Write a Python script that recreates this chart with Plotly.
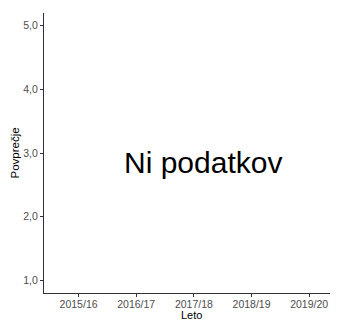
import plotly.graph_objects as go

years = ["2015/16", "2016/17", "2017/18", "2018/19", "2019/20"]
values = [None, None, None, None, None]
y_ticks = [1.0, 2.0, 3.0, 4.0, 5.0]
no_data_text = "Ni podatkov"
x_title = "Leto"
y_title = "Povprečje"

FONT = "Liberation Sans, Arial, sans-serif"

fig = go.Figure()
fig.add_trace(go.Scatter(x=years, y=values, mode="markers", showlegend=False,
                         hoverinfo="skip"))

fig.add_annotation(x=0.54, y=3, xref="paper", yref="y", text=no_data_text,
                   showarrow=False, xanchor="center", yanchor="middle", yshift=-9,
                   font=dict(family=FONT, size=30, color="black"))
fig.add_annotation(x=0.5, y=-0.0796, xref="paper", yref="paper", text=x_title,
                   showarrow=False, xanchor="center", yanchor="middle",
                   font=dict(family=FONT, size=11, color="black"))
fig.add_annotation(x=-0.097, y=0.5, xref="paper", yref="paper", text=y_title,
                   showarrow=False, xanchor="center", yanchor="middle", textangle=-90,
                   font=dict(family=FONT, size=11.5, color="black"))

# page body has an 8px margin, so the figure is sized to fill the rest of the window
fig.update_layout(
    width=330, height=312,
    margin=dict(l=35.5, r=0, t=4.5, b=27.3, pad=0),
    paper_bgcolor="white", plot_bgcolor="white",
    separators=",.",
    font=dict(family=FONT),
    showlegend=False,
)
fig.update_xaxes(
    type="category", categoryorder="array", categoryarray=years,
    range=[-0.6, 4.5], automargin=False,
    showgrid=False, zeroline=False,
    showline=True, linecolor="#333333", linewidth=1.2,
    ticks="outside", ticklen=3, tickcolor="#333333", tickwidth=1,
    ticklabelstandoff=-2,
    tickfont=dict(family=FONT, size=10.5, color="#4D4D4D"),
)
fig.update_yaxes(
    range=[0.8, 5.2], tickvals=y_ticks, tickformat=".1f", automargin=False,
    showgrid=False, zeroline=False,
    showline=True, linecolor="#333333", linewidth=1.2,
    ticks="outside", ticklen=3, tickcolor="#333333", tickwidth=1,
    tickfont=dict(family=FONT, size=10.5, color="#4D4D4D"),
)

fig.write_html("out.html")
